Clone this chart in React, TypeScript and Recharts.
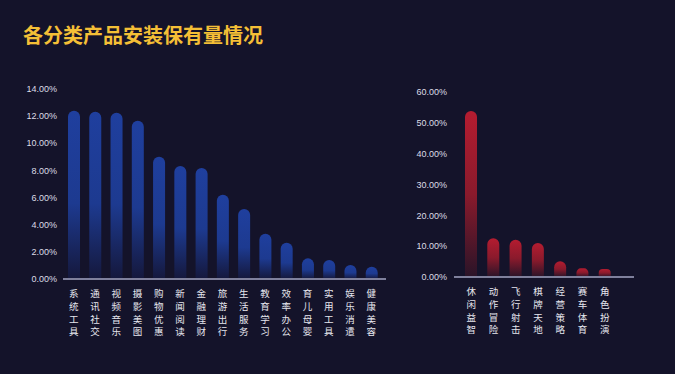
import { BarChart, Bar, XAxis, YAxis } from 'recharts';

const leftCategories = [
  '系统工具', '通讯社交', '视频音乐', '摄影美图', '购物优惠', '新闻阅读', '金融理财', '旅游出行',
  '生活服务', '教育学习', '效率办公', '育儿母婴', '实用工具', '娱乐消遣', '健康美容',
];
const leftValues = [12.4, 12.33, 12.25, 11.66, 9.01, 8.33, 8.18, 6.2, 5.16, 3.34, 2.67, 1.52, 1.4, 1.03, 0.9];
const leftTicks = [0, 2, 4, 6, 8, 10, 12, 14];

const rightCategories = ['休闲益智', '动作冒险', '飞行射击', '棋牌天地', '经营策略', '赛车体育', '角色扮演'];
const rightValues = [53.8, 12.55, 12.1, 11.0, 5.1, 2.8, 2.6];
const rightTicks = [0, 10, 20, 30, 40, 50, 60];

const leftData = leftCategories.map((name, i) => ({ name, value: leftValues[i] }));
const rightData = rightCategories.map((name, i) => ({ name, value: rightValues[i] }));

const BG = '#14132a';
const CJK = '"Noto Sans CJK SC", "Noto Sans", sans-serif';

// category names are stacked one character per line under each bar
function VerticalTick(props: any) {
  const { x, y, payload } = props;
  const chars = String(payload.value).split('');
  return (
    <g>
      {chars.map((c, i) => (
        <text key={i} x={x} y={y + 10.3 + i * 12.7} textAnchor="middle" fill="#e6e6ee" fontSize={9.5} fontFamily={CJK}>
          {c}
        </text>
      ))}
    </g>
  );
}

const yTickStyle = { fill: '#dcdce6', fontSize: 9, fontFamily: 'Liberation Sans, Arial, sans-serif' };

export default function App() {
  return (
    <div
      style={{
        position: 'absolute',
        left: 0,
        top: 0,
        width: 675,
        height: 374,
        background: BG,
        overflow: 'hidden',
      }}
    >
      <div
        style={{
          position: 'absolute',
          left: 23,
          top: 22,
          color: '#f4bf36',
          fontSize: 20,
          fontWeight: 700,
          fontFamily: CJK,
          lineHeight: '26px',
        }}
      >
        各分类产品安装保有量情况
      </div>

      <div style={{ position: 'absolute', left: 0, top: 0 }}>
        <BarChart width={400} height={374} data={leftData} margin={{ top: 89, right: 14, bottom: 0, left: 0 }}>
          <defs>
            <linearGradient id="blueGrad" x1="0" y1="0" x2="0" y2="1">
              <stop offset="0%" stopColor="#1f3f9e" />
              <stop offset="55%" stopColor="#1d3a90" />
              <stop offset="100%" stopColor="#15183c" />
            </linearGradient>
          </defs>
          <XAxis
            dataKey="name"
            interval={0}
            height={95}
            tickLine={false}
            axisLine={{ stroke: '#7f809c', strokeWidth: 2 }}
            tick={<VerticalTick />}
            padding={{ left: 0, right: 4 }}
          />
          <YAxis
            width={63}
            domain={[0, 14]}
            ticks={leftTicks}
            interval={0}
            axisLine={false}
            tickLine={false}
            tickMargin={0}
            tick={yTickStyle}
            tickFormatter={(v: number) => `${v.toFixed(2)}%`}
          />
          <Bar dataKey="value" barSize={12} radius={[6, 6, 0, 0]} fill="url(#blueGrad)" isAnimationActive={false} />
        </BarChart>
      </div>

      <div style={{ position: 'absolute', left: 400, top: 0 }}>
        <BarChart width={275} height={374} data={rightData} margin={{ top: 92, right: 41, bottom: 0, left: 0 }}>
          <defs>
            <linearGradient id="redGrad" x1="0" y1="0" x2="0" y2="1">
              <stop offset="0%" stopColor="#b41c30" />
              <stop offset="50%" stopColor="#8a1a2c" />
              <stop offset="100%" stopColor="#2a1428" />
            </linearGradient>
          </defs>
          <XAxis
            dataKey="name"
            interval={0}
            height={97}
            tickLine={false}
            axisLine={{ stroke: '#7f809c', strokeWidth: 2 }}
            tick={<VerticalTick />}
            padding={{ left: 6, right: 18 }}
          />
          <YAxis
            width={54}
            domain={[0, 60]}
            ticks={rightTicks}
            interval={0}
            axisLine={false}
            tickLine={false}
            tickMargin={1}
            tick={yTickStyle}
            tickFormatter={(v: number) => `${v.toFixed(2)}%`}
          />
          <Bar dataKey="value" barSize={12} radius={[6, 6, 0, 0]} fill="url(#redGrad)" isAnimationActive={false} />
        </BarChart>
      </div>
    </div>
  );
}
